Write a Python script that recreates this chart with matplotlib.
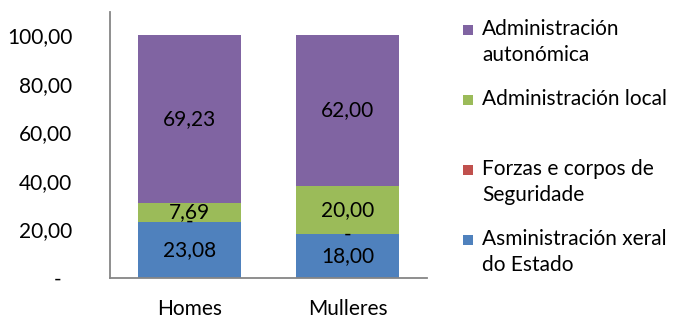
import matplotlib
matplotlib.use("Agg")
import matplotlib.pyplot as plt
from matplotlib.patches import Rectangle
import numpy as np

plt.rcParams['font.family'] = ['Lato', 'DejaVu Sans']

categories = ["Homes", "Mulleres"]
series_names = ["Asministración xeral\ndo Estado", "Forzas e corpos de\nSeguridade",
                "Administración local", "Administración\nautonómica"]
estado = [23.08, 18.00]
forzas = [0.0, 0.0]
local = [7.69, 20.00]
autonomica = [69.23, 62.00]
series_values = [estado, forzas, local, autonomica]
colors = ["#4F81BD", "#C0504D", "#9BBB59", "#8064A2"]
yticks = [0, 20, 40, 60, 80, 100]

FS = 15
W, H = 673, 320
fig = plt.figure(figsize=(W / 100, H / 100), dpi=100)
ax = fig.add_axes([110 / W, 1 - 278 / H, (427 - 110) / W, (278 - 12) / H])

x = np.arange(len(categories))
bottom = np.zeros(len(categories))
for vals, col in zip(series_values, colors):
    vals = np.array(vals)
    ax.bar(x, vals, bottom=bottom, width=0.65, color=col, edgecolor='none', zorder=2)
    for xi, v, b in zip(x, vals, bottom):
        lab = "-" if v == 0 else f"{v:.2f}".replace(".", ",")
        ax.text(xi, b + v / 2, lab, ha='center', va='center', fontsize=FS, color='black', zorder=3)
    bottom += vals

ax.set_xlim(-0.5, 1.5)
ax.set_ylim(0, 109.5)
ax.set_yticks(yticks)
ax.set_yticklabels(["-  " if t == 0 else f"{t:.2f}".replace(".", ",") for t in yticks], fontsize=FS)
ax.set_xticks(x)
ax.set_xticklabels(categories, fontsize=FS)
ax.tick_params(axis='y', length=0, pad=27)
ax.tick_params(axis='x', length=0, pad=15)
for s in ['top', 'right']:
    ax.spines[s].set_visible(False)
for s in ['left', 'bottom']:
    ax.spines[s].set_color('#868686')
    ax.spines[s].set_linewidth(1.3)

# legend (reverse order)
leg_y = [30, 100, 170, 240]
for yy, name, col in zip(leg_y, series_names[::-1], colors[::-1]):
    fig.patches.append(Rectangle((463 / W, 1 - (yy + 5) / H), 10 / W, 10 / H,
                                 transform=fig.transFigure, facecolor=col, edgecolor='none'))
    fig.text(482 / W, 1 - (yy - 11) / H, name, ha='left', va='top', fontsize=FS,
             linespacing=1.35, color='black')

fig.savefig("out.png", dpi=100)
